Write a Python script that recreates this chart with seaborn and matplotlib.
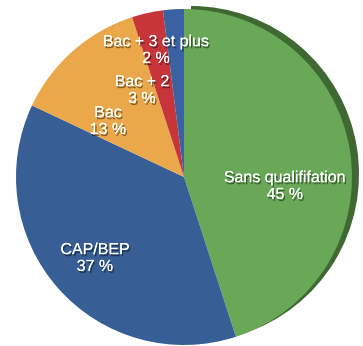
import matplotlib
matplotlib.use("Agg")
import matplotlib.pyplot as plt
import matplotlib.patheffects as pe
import seaborn as sns

categories = ["Sans qualififation", "CAP/BEP", "Bac", "Bac + 2", "Bac + 3 et plus"]
values = [45, 37, 13, 3, 2]
pct_labels = ["45 %", "37 %", "13 %", "3 %", "2 %"]
colors = ["#68a857", "#385f95", "#eba84a", "#c7353b", "#3a62a2"]
shadow_color = "#3f6832"

sns.set_theme(style="white")
plt.rcParams["font.family"] = ["Liberation Sans", "DejaVu Sans"]

W, H = 363, 346
fig = plt.figure(figsize=(W / 100, H / 100), dpi=100)
ax = fig.add_axes([0, 0, 1, 1])
ax.set_xlim(0, W)
ax.set_ylim(0, H)
ax.set_aspect("equal")
ax.axis("off")

cx, cy, r = 184, H - 177, 168

# extruded edge of the green slice
ax.pie([values[0], sum(values[1:])], colors=[shadow_color, (0, 0, 0, 0)],
       startangle=90, counterclock=False, radius=r, center=(cx + 7, cy + 3),
       wedgeprops=dict(linewidth=0), frame=True)
ax.pie(values, colors=colors, startangle=90, counterclock=False, radius=r,
       center=(cx, cy), wedgeprops=dict(linewidth=0), frame=True)
ax.set_xlim(0, W)
ax.set_ylim(0, H)
ax.axis("off")

label_pos = [(285, 186), (95, 258), (108, 121), (142, 90), (156, 50)]
shadow = [pe.withSimplePatchShadow(offset=(1, -1.5), shadow_rgbFace="black", alpha=0.45), pe.Normal()]
for name, pct, (x, y) in zip(categories, pct_labels, label_pos):
    ax.text(x, H - y, f"{name}\n{pct}", color="white", fontsize=11.5,
            ha="center", va="center", linespacing=1.15, path_effects=shadow)

fig.savefig("out.png", dpi=100, facecolor="white")
